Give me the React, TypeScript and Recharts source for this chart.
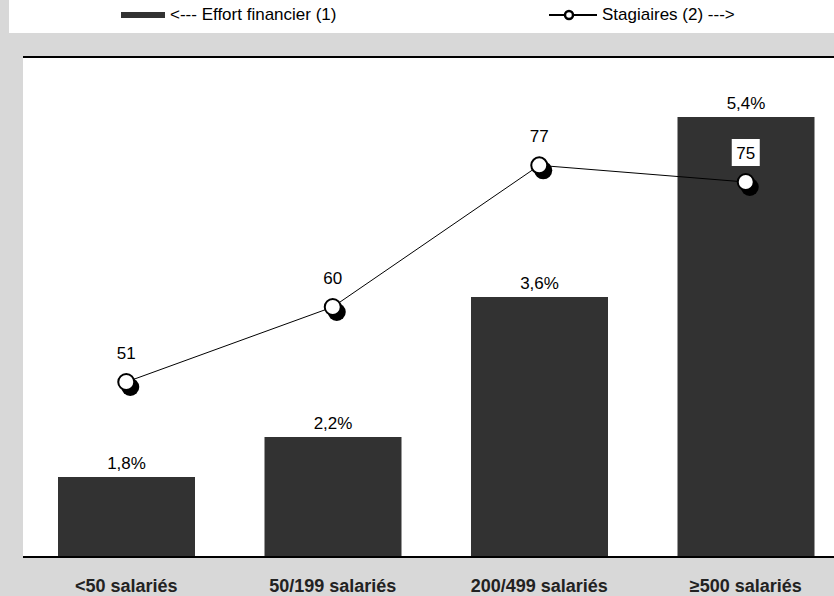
import React from 'react';
import { ComposedChart, Bar, Line, XAxis, YAxis, CartesianGrid, LabelList, ReferenceLine } from 'recharts';

const categories = ['<50 salariés', '50/199 salariés', '200/499 salariés', '≥500 salariés'];
const effortFinancier = [1.8, 2.2, 3.6, 5.4];
const stagiaires = [51, 60, 77, 75];

const chartData = categories.map((name, i) => ({
  name,
  effort: effortFinancier[i],
  stagiaires: stagiaires[i],
}));

const FONT = '"Liberation Sans", Arial, Helvetica, sans-serif';
const BAR_COLOR = '#323232';

const StagiaireDot = (props: any) => {
  const { cx, cy, index } = props;
  if (cx == null || cy == null) return null;
  return (
    <g key={`dot-${index}`}>
      <circle cx={cx + 4} cy={cy + 5} r={9} fill="#000" />
      <circle cx={cx} cy={cy} r={8} fill="#fff" stroke="#000" strokeWidth={2} />
    </g>
  );
};

const StagiaireLabel = (props: any) => {
  const { x, y, value } = props;
  const ty = y - 29;
  return (
    <g>
      <rect x={x - 14} y={ty - 14} width={28} height={27} fill="#fff" />
      <text x={x} y={ty} textAnchor="middle" dominantBaseline="central" fontSize={17} fontFamily={FONT} fill="#000">
        {value}
      </text>
    </g>
  );
};

const CategoryTick = (props: any) => {
  const { x, y, payload } = props;
  return (
    <text x={x} y={y + 21} textAnchor="middle" dominantBaseline="central" fontSize={18} fontWeight="bold" fontFamily={FONT} fill="#222">
      {payload.value}
    </text>
  );
};

const App: React.FC = () => {
  return (
    <div
      style={{
        position: 'absolute',
        left: 0,
        top: 0,
        width: 834,
        height: 596,
        overflow: 'hidden',
        background: '#d8d8d8',
        fontFamily: FONT,
      }}
    >
      {/* legend strip */}
      <div style={{ position: 'absolute', left: 9, top: 0, width: 825, height: 33, background: '#fff' }}>
        <div style={{ position: 'absolute', left: 112, top: 12, width: 44, height: 6, background: BAR_COLOR }} />
        <div style={{ position: 'absolute', left: 161, top: 5, fontSize: 17, lineHeight: '20px', color: '#000' }}>
          {'<--- Effort financier (1)'}
        </div>
        <div style={{ position: 'absolute', left: 540, top: 5, fontSize: 17, lineHeight: '20px', color: '#000', display: 'flex', alignItems: 'center' }}>
          <svg width={48} height={20} style={{ marginRight: 5 }}>
            <line x1={0} y1={10} x2={48} y2={10} stroke="#000" strokeWidth={2} />
            <circle cx={20} cy={10} r={4} fill="#fff" stroke="#000" strokeWidth={2.5} />
          </svg>
          <span>{'Stagiaires (2) --->'}</span>
        </div>
      </div>

      <div style={{ position: 'absolute', left: 0, top: 0 }}>
        <ComposedChart
          width={860}
          height={596}
          data={chartData}
          margin={{ top: 57, right: 11, bottom: 9, left: 23 }}
        >
          <CartesianGrid yAxisId="left" fill="#fff" horizontal={false} vertical={false} />
          <XAxis
            dataKey="name"
            height={30}
            axisLine={{ stroke: '#000', strokeWidth: 2 }}
            tickLine={false}
            tick={<CategoryTick />}
            interval={0}
          />
          <YAxis
            yAxisId="left"
            domain={[1, 6]}
            width={0}
            tick={false}
            tickLine={false}
            axisLine={{ stroke: '#000', strokeWidth: 2 }}
          />
          <YAxis yAxisId="right" orientation="right" domain={[30, 90]} hide />
          <ReferenceLine yAxisId="left" y={6} stroke="#000" strokeWidth={2} />
          <Bar yAxisId="left" dataKey="effort" fill={BAR_COLOR} barSize={137} isAnimationActive={false}>
            <LabelList
              dataKey="effort"
              position="top"
              offset={8}
              formatter={(v: any) => `${String(v).replace('.', ',')}%`}
              style={{ fontSize: 17, fontFamily: FONT, fill: '#000' }}
            />
          </Bar>
          <Line
            yAxisId="right"
            type="linear"
            dataKey="stagiaires"
            stroke="#000"
            strokeWidth={1}
            dot={<StagiaireDot />}
            activeDot={false}
            isAnimationActive={false}
          >
            <LabelList dataKey="stagiaires" content={<StagiaireLabel />} />
          </Line>
        </ComposedChart>
      </div>
    </div>
  );
};

export default App;
